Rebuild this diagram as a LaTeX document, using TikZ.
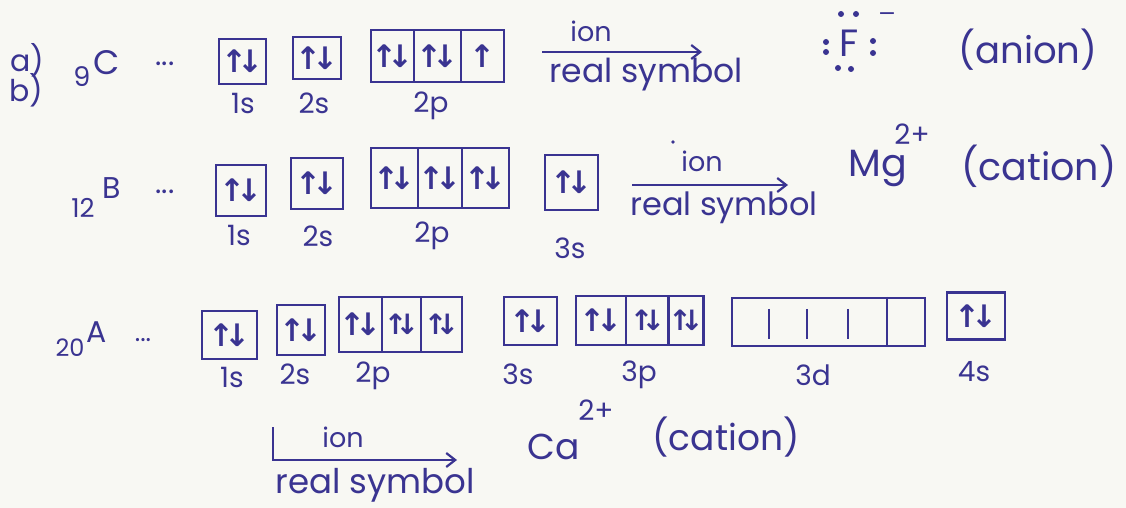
\documentclass[tikz,border=0pt]{standalone}
\usepackage{fontspec}
\setmainfont{Poppins}
\newfontfamily\arr{DejaVu Sans}
\usetikzlibrary{arrows.meta,calc}
\definecolor{ink}{RGB}{58,52,145}
\definecolor{paper}{RGB}{248,248,243}
\newcommand\ud{{\arr\bfseries\fontsize{31}{31}\selectfont ↑\kern-0.3em↓}}
\newcommand\udn{{\arr\bfseries\fontsize{28}{28}\selectfont ↑\kern-0.42em↓}}
\newcommand\uo{{\arr\bfseries\fontsize{31}{31}\selectfont ↑}}
\begin{document}
\begin{tikzpicture}[x=1pt,y=-1pt,
  every node/.style={text=ink, inner sep=0pt},
  fs/.style={font=\fontsize{#1}{#1}\selectfont},
  cell/.style={draw=ink, line width=2.2pt, inner sep=0pt, minimum width=#1},
  divider/.style={draw=ink, line width=2.2pt},
  conn/.style={draw=ink, line width=2.2pt, -{Straight Barb[length=9pt,width=14pt]}},
  lbl/.style={fs=28},
  dotm/.style={fill=ink}]
\fill[paper] (0,0) rectangle (1126,508);
\useasboundingbox (0,0) rectangle (1126,508);

% ---------- row 1 ----------
\node[fs=30] (ra) at (27,60) {a)};
\node[fs=30] (rb) at (26,90) {b)};
\node[fs=27] (z9) at (82,77) {9};
\node[fs=34] (elC) at (107,63) {C};
\node[fs=30] (d1) at (165,64) {...};
\node[cell=47, minimum height=45] (a1s) at (242.5,61.5) {\ud};
\node[cell=48, minimum height=42] (a2s) at (317,58) {\ud};
\node[cell=43, minimum height=52] (a2pa) at (392.5,56) {\ud};
\node[cell=47, minimum height=52] (a2pb) at (437.5,56) {\ud};
\node[cell=43, minimum height=52] (a2pc) at (482.5,56) {\uo};
\node[lbl] (la1s) at (243,104) {1s};
\node[lbl] (la2s) at (314,103) {2s};
\node[lbl] (la2p) at (431,106) {2p};
\coordinate (ar1s) at (542,52);
\coordinate (ar1e) at (702,52);
\draw[conn] (ar1s) -- (ar1e);
\node[fs=27] (ion1) at (591,31) {ion};
\node[fs=33] (rs1) at (646,75) {real symbol};
\node[fs=38] (F) at (849,43) {F};
\foreach \p in {(826,42),(826,52),(873,41),(873,53),(841,14),(856,14),(838,68),(851,69)}
  \fill[dotm] \p circle (3);
\node[font=\arr\fontsize{22}{22}\selectfont] (minus) at (887,17) {−};
\node[fs=37] (anion) at (1028,50) {(anion)};

% ---------- row 2 ----------
\node[fs=26] (z12) at (83,208) {12};
\node[fs=30] (elB) at (112,188) {B};
\node[fs=30] (d2) at (165,192) {...};
\node[cell=50, minimum height=51] (b1s) at (241,190.5) {\ud};
\node[cell=52, minimum height=51] (b2s) at (317,183.5) {\ud};
\node[cell=47, minimum height=60] (b2pa) at (394.5,178) {\ud};
\node[cell=44, minimum height=60] (b2pb) at (440,178) {\ud};
\node[cell=47, minimum height=60] (b2pc) at (485.5,178) {\ud};
\node[cell=53, minimum height=55] (b3s) at (571.5,182.5) {\ud};
\node[lbl] (lb1s) at (239,236) {1s};
\node[lbl] (lb2s) at (318,236) {2s};
\node[lbl] (lb2p) at (432,236) {2p};
\node[lbl] (lb3s) at (570,248) {3s};
\coordinate (ar2s) at (632,185);
\coordinate (ar2e) at (788,185);
\draw[conn] (ar2s) -- (ar2e);
\fill[dotm] (673,142) circle (1.8);
\node[fs=27] (ion2) at (702,161) {ion};
\node[fs=32] (rs2) at (724,208) {real symbol};
\node[fs=38] (Mg) at (878,168) {Mg};
\node[fs=28] (Mgc) at (912,134) {2+};
\node[fs=38] (cat1) at (1039,166) {(cation)};

% ---------- row 3 ----------
\node[fs=24] (z20) at (70,348) {20};
\node[fs=30] (elA) at (97,332) {A};
\node[fs=26] (d3) at (143,340) {...};
\node[cell=55, minimum height=48] (c1s) at (229.5,335) {\ud};
\node[cell=48, minimum height=50] (c2s) at (301,330) {\ud};
\node[cell=43, minimum height=55] (c2pa) at (360.5,324.5) {\ud};
\node[cell=39, minimum height=55] (c2pb) at (401.5,324.5) {\udn};
\node[cell=41, minimum height=55] (c2pc) at (441.5,324.5) {\udn};
\node[cell=53, minimum height=48] (c3s) at (530.5,321) {\ud};
\node[cell=50, minimum height=49] (c3pa) at (601,320.5) {\ud};
\node[cell=43, minimum height=49] (c3pb) at (647.5,320.5) {\udn};
\node[cell=34, minimum height=49] (c3pc) at (686,320.5) {\udn};
\node[cell=193, minimum height=48] (c3d) at (828.5,322) {};
\foreach \f in {0.197,0.389,0.601}
  \draw[divider] ($(c3d.north west)!\f!(c3d.north east)+(0,12)$) -- ($(c3d.south west)!\f!(c3d.south east)+(0,-8)$);
\draw[divider] ($(c3d.north west)!0.798!(c3d.north east)$) -- ($(c3d.south west)!0.798!(c3d.south east)$);
\node[cell=58, minimum height=47] (c4s) at (976,316) {\ud};
\node[lbl] (lc1s) at (232,378) {1s};
\node[lbl] (lc2s) at (295,374) {2s};
\node[lbl] (lc2p) at (373,376) {2p};
\node[lbl] (lc3s) at (518,374) {3s};
\node[lbl] (lc3p) at (639,375) {3p};
\node[lbl] (lc3d) at (813,375) {3d};
\node[lbl] (lc4s) at (974,372) {4s};
\coordinate (ar3s) at (273,427);
\coordinate (ar3e) at (457,460);
\draw[conn] (ar3s) |- (ar3e);
\node[fs=27] (ion3) at (343,437) {ion};
\node[fs=34] (rs3) at (375,485) {real symbol};
\node[fs=36] (Ca) at (554,447) {Ca};
\node[fs=28] (Cac) at (596,410) {2+};
\node[fs=36] (cat2) at (726,437) {(cation)};
\end{tikzpicture}
\end{document}
